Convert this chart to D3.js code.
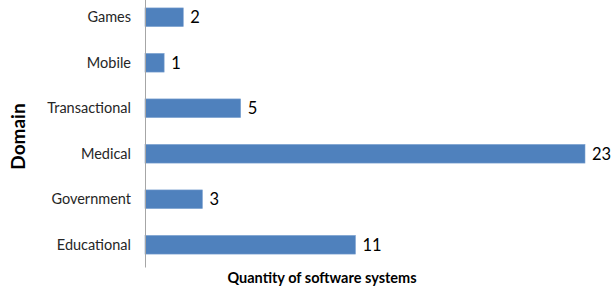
<!DOCTYPE html>
<html><head><meta charset="utf-8">
<script src="https://cdn.jsdelivr.net/npm/d3@7"></script>
<style>body{margin:0;background:#fff}svg{display:block}text{font-family:Lato,"Open Sans",sans-serif}</style>
</head><body>
<svg id="c" width="612" height="289"></svg>
<script>
const categories = ["Games","Mobile","Transactional","Medical","Government","Educational"];
const values = [2,1,5,23,3,11];
const axisTitle = "Quantity of software systems";
const yTitle = "Domain";

const svg = d3.select("#c");
const x = d3.scaleLinear().domain([0,23]).range([145,585]);
const y = d3.scaleBand().domain(categories).range([-5.5,267.5]).paddingInner(0.59).paddingOuter(0.295);

svg.selectAll("rect.bar").data(categories).join("rect")
  .attr("class","bar")
  .attr("x",x(0))
  .attr("y",d=>y(d))
  .attr("width",(d,i)=>x(values[i])-x(0))
  .attr("height",y.bandwidth())
  .attr("fill","#4F81BD")
  .attr("stroke","#7ba0cf").attr("stroke-width",0.6);

svg.append("line").attr("x1",145.5).attr("x2",145.5).attr("y1",0).attr("y2",267.5)
  .attr("stroke","#a6a6a6").attr("stroke-width",1);

svg.selectAll("text.cat").data(categories).join("text")
  .attr("class","cat")
  .attr("x",131).attr("y",d=>y(d)+y.bandwidth()/2)
  .attr("dy","0.35em").attr("text-anchor","end")
  .attr("font-size",14.5).attr("fill","#262626").text(d=>d);

svg.selectAll("text.val").data(categories).join("text")
  .attr("class","val")
  .attr("x",(d,i)=>x(values[i])+7).attr("y",d=>y(d)+y.bandwidth()/2)
  .attr("dy","0.36em").attr("font-size",16.5).attr("fill","#000")
  .text((d,i)=>values[i]);

svg.append("text").attr("x",322).attr("y",283).attr("text-anchor","middle")
  .attr("font-size",14.5).attr("font-weight","bold").attr("fill","#000").text(axisTitle);

svg.append("text").attr("transform","translate(25,136.5) rotate(-90)").attr("text-anchor","middle")
  .attr("font-size",19).attr("font-weight","bold").attr("fill","#000").text(yTitle);
</script>
</body></html>
